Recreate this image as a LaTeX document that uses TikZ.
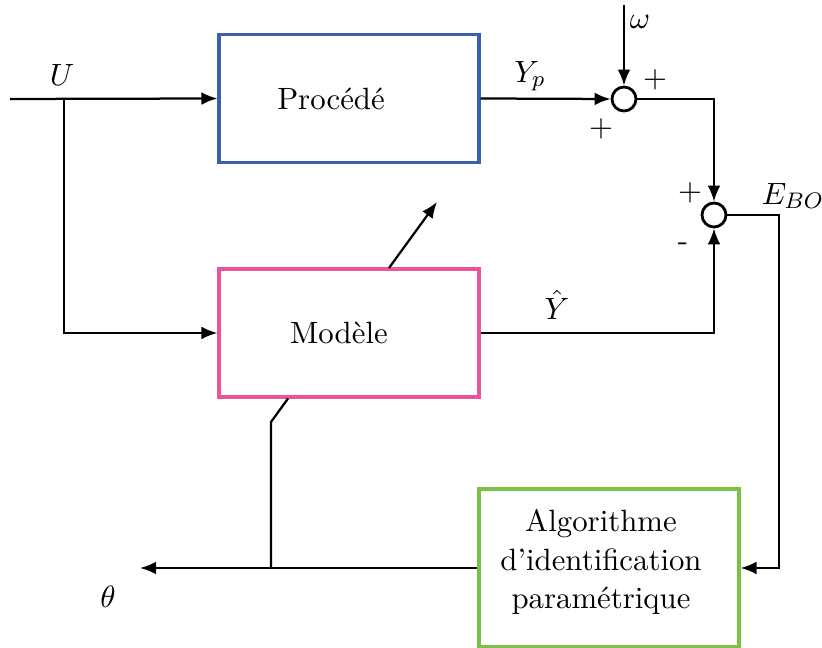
\documentclass[tikz,border=0pt,11pt]{standalone}
\usepackage{tikz}
\usetikzlibrary{arrows.meta, positioning, calc}
\definecolor{procblue}{RGB}{58,95,176}
\definecolor{modpink}{RGB}{232,85,154}
\definecolor{algogreen}{RGB}{125,193,66}
\tikzset{
  blocknode/.style = {draw, line width=1.1pt, minimum width=3.25cm,
                      minimum height=1.6cm, align=center, inner sep=0pt},
  sumnode/.style   = {draw, circle, line width=1pt, minimum size=3mm,
                      inner sep=0pt, fill=white},
  signal/.style    = {-{Latex[length=2mm, width=1.6mm]}, line width=0.8pt},
  wire/.style      = {-, line width=0.8pt},
  lbl/.style       = {inner sep=1pt},
}

\begin{document}
\begin{tikzpicture}[x=0.0125cm, y=0.0125cm]
    \useasboundingbox (0,0) rectangle (822,648);

    % --- blocks ---
    \node[blocknode, draw=procblue] (proc) at (349,549.5) {};
    \node[lbl] (proctext) at (331,549.5) {Procédé};
    \node[blocknode, draw=modpink] (model) at (349,315) {};
    \node[lbl] (modeltext) at (339,315) {Modèle};
    \node[blocknode, draw=algogreen, minimum height=1.975cm] (algo) at (609,80) {};
    \node[lbl, align=center] (algotext) at (601,86)
      {Algorithme\\ d'identification\\ paramétrique};

    % --- summing junctions ---
    \node[sumnode] (sumA) at (624,549) {};
    \node[sumnode] (sumB) at (714,433) {};

    % --- free ends and corners ---
    \coordinate (in) at (10,549);
    \coordinate (split) at (64,549);
    \coordinate (wtop) at (624,643);
    \coordinate (ecorner) at (779,433);
    \coordinate (thetaend) at (140,80);
    \coordinate (tsplit) at (271,80);
    \coordinate (tknee) at (271,226);
    \coordinate (adaptA) at (389,380);
    \coordinate (adaptB) at (437,446);

    % --- input and process ---
    \draw[signal] (in) -- (proc.west);
    \draw[signal] (split) |- (model.west);
    \draw[signal] (proc.east) -- (sumA.west);
    \draw[signal] (wtop) -- (sumA.north);
    \draw[signal] (sumA.east) -| (sumB.north);
    \draw[signal] (model.east) -| (sumB.south);

    % --- error to identification ---
    \draw[signal] (sumB.east) -| (ecorner) |- (algo.east);
    \draw[signal] (algo.west) -- (thetaend);
    \draw[wire] (tsplit) -- (tknee) -- (model.south -| 288,0);

    % --- adaptation arrow ---
    \draw[signal] (adaptA) -- (adaptB);

    % --- labels ---
    \node[lbl] (lblU) at (62,573) {$U$};
    \node[lbl] (lblYp) at (530,572) {$Y_p$};
    \node[lbl] (lblw) at (640,626) {$\omega$};
    \node[lbl] (plusA) at (655,568) {$+$};
    \node[lbl] (plusB) at (601,519) {$+$};
    \node[lbl] (plusC) at (690,455) {$+$};
    \node[lbl] (minusC) at (683,401) {-};
    \node[lbl] (lblE) at (793,452) {$E_{BO}$};
    \node[lbl] (lblYh) at (557,343) {$\hat{Y}$};
    \node[lbl] (lbltheta) at (108,51) {$\theta$};
\end{tikzpicture}
\end{document}
